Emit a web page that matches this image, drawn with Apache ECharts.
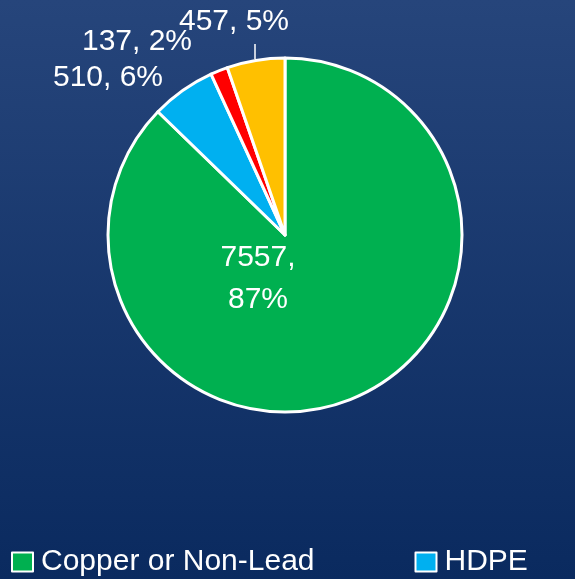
<!DOCTYPE html>
<html><head><meta charset="utf-8">
<script src="https://cdn.jsdelivr.net/npm/echarts@6/dist/echarts.min.js"></script>
<style>html,body{margin:0;padding:0;}#c{width:575px;height:579px;}</style>
</head><body><div id="c"></div>
<script>
const categories = ['Copper or Non-Lead', 'HDPE', 'Lead', 'Unknown'];
const values = [7557, 510, 137, 457];
const percents = [87, 6, 2, 5];
const colors = ['#00b050', '#00b0f0', '#ff0000', '#ffc000'];

const chart = echarts.init(document.getElementById('c'));
const FONT = '"Liberation Sans", Arial, sans-serif';
const labelPos = [
  {x: 258, y: 279},
  {x: 108, y: 78},
  {x: 137, y: 42},
  {x: 234, y: 22}
];
chart.setOption({
  backgroundColor: {
    type: 'linear', x: 0, y: 0, x2: 0, y2: 1,
    colorStops: [{offset: 0, color: '#26457b'}, {offset: 1, color: '#0a2a5f'}]
  },
  animation: false,
  legend: {
    left: 6, top: 542, width: 3000,
    orient: 'horizontal',
    itemWidth: 21, itemHeight: 19, itemGap: 100,
    icon: 'rect',
    itemStyle: {borderColor: '#ffffff', borderWidth: 2},
    textStyle: {color: '#ffffff', fontSize: 30, fontFamily: FONT, padding: [0, 0, 0, 3]},
    data: categories
  },
  series: [{
    type: 'pie',
    center: [285, 235],
    radius: 177,
    startAngle: 90,
    clockwise: true,
    itemStyle: {borderColor: '#ffffff', borderWidth: 3},
    label: {
      show: true,
      color: '#ffffff',
      fontSize: 30,
      fontFamily: FONT,
      lineHeight: 42,
      overflow: 'none',
      formatter: p => p.dataIndex === 0 ? values[0] + ',\n' + percents[0] + '%' : values[p.dataIndex] + ', ' + percents[p.dataIndex] + '%'
    },
    labelLine: {show: true, length: 10, length2: 5, lineStyle: {color: '#ffffff', width: 1.5}},
    labelLayout: function (params) {
      const i = params.dataIndex;
      const r = {x: labelPos[i].x, y: labelPos[i].y, align: 'center', verticalAlign: 'middle'};
      if (i === 3) {
        r.labelLinePoints = [[255, 59], [255, 44], [255, 44]];
      } else {
        r.labelLinePoints = [[0, 0], [0, 0], [0, 0]];
      }
      return r;
    },
    data: categories.map((n, i) => ({
      name: n, value: values[i],
      itemStyle: {color: colors[i]},
      labelLine: {show: i === 3}
    }))
  }]
});
</script>
</body></html>
